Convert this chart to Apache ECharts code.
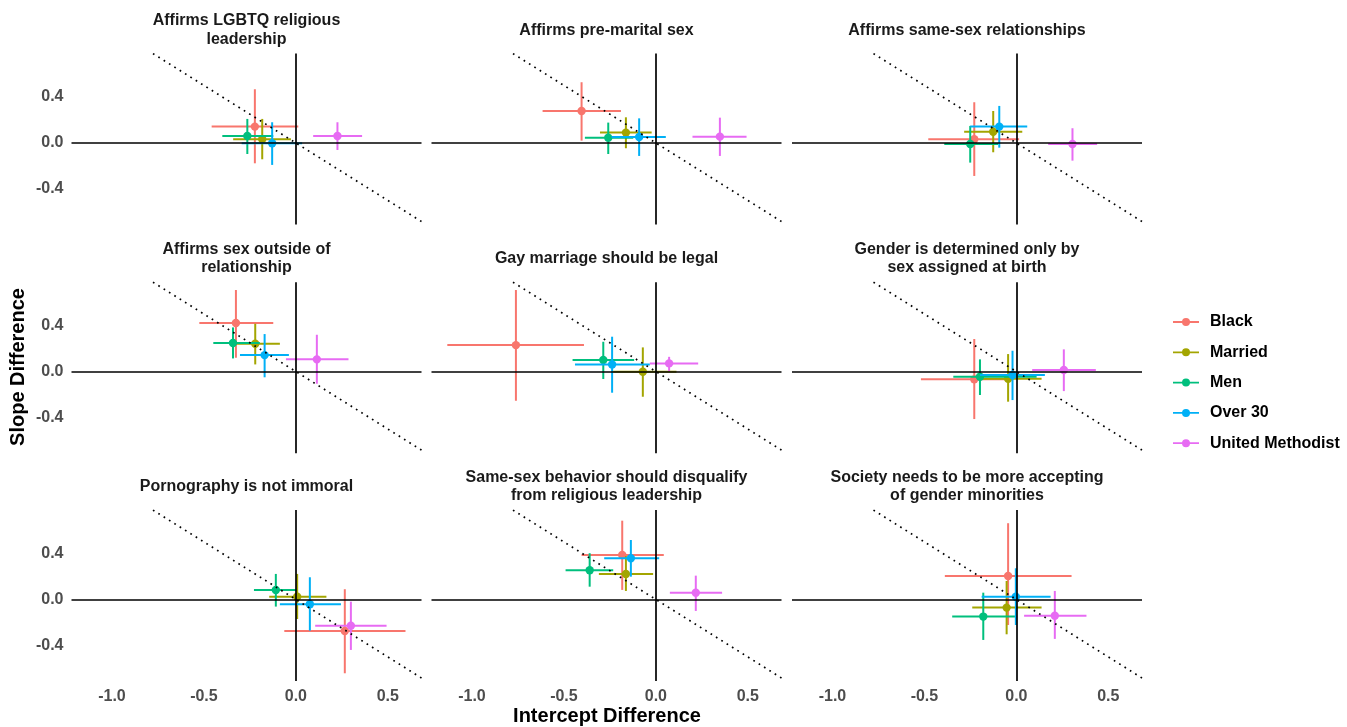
<!DOCTYPE html>
<html>
<head>
<meta charset="utf-8">
<script src="https://cdn.jsdelivr.net/npm/echarts@6/dist/echarts.min.js"></script>
<style>
  html, body { margin: 0; padding: 0; background: #fff; }
  #chart { width: 1347px; height: 727px; }
</style>
</head>
<body>
<div id="chart"></div>
<script>
// facet titles, row by row
const panels = [
    'Affirms LGBTQ religious\nleadership',
    'Affirms pre-marital sex',
    'Affirms same-sex relationships',
    'Affirms sex outside of\nrelationship',
    'Gay marriage should be legal',
    'Gender is determined only by\nsex assigned at birth',
    'Pornography is not immoral',
    'Same-sex behavior should disqualify\nfrom religious leadership',
    'Society needs to be more accepting\nof gender minorities'
];

const groups = ['Black', 'Married', 'Men', 'Over 30', 'United Methodist'];
const groupColors = ['#F8766D', '#A3A500', '#00BF7D', '#00B0F6', '#E76BF3'];

// one row per panel: [intercept, slope, interceptLow, interceptHigh, slopeLow, slopeHigh]
const black = [
    [-0.223, 0.142, -0.458, 0.013, -0.177, 0.467],
    [-0.404, 0.278, -0.616, -0.190, 0.020, 0.528],
    [-0.229, 0.032, -0.479, 0.015, -0.287, 0.354],
    [-0.326, 0.422, -0.525, -0.123, 0.120, 0.709],
    [-0.761, 0.230, -1.134, -0.391, -0.254, 0.709],
    [-0.229, -0.068, -0.519, -0.017, -0.413, 0.283],
    [0.266, -0.274, -0.063, 0.596, -0.642, 0.089],
    [-0.183, 0.387, -0.404, 0.043, 0.083, 0.685],
    [-0.045, 0.204, -0.389, 0.300, -0.222, 0.663]
];
const married = [
    [-0.183, 0.032, -0.341, -0.027, -0.142, 0.209],
    [-0.163, 0.090, -0.304, -0.023, -0.046, 0.223],
    [-0.126, 0.098, -0.284, 0.032, -0.081, 0.278],
    [-0.221, 0.242, -0.341, -0.087, 0.062, 0.416],
    [-0.071, -0.002, -0.232, 0.112, -0.219, 0.210],
    [-0.045, -0.062, -0.198, 0.137, -0.262, 0.152],
    [0.007, 0.024, -0.145, 0.166, -0.170, 0.222],
    [-0.163, 0.222, -0.310, -0.015, 0.074, 0.378],
    [-0.053, -0.071, -0.240, 0.137, -0.303, 0.161]
];
const men = [
    [-0.264, 0.061, -0.400, -0.123, -0.096, 0.209],
    [-0.259, 0.046, -0.386, -0.123, -0.096, 0.177],
    [-0.251, -0.009, -0.392, -0.099, -0.171, 0.148],
    [-0.342, 0.248, -0.449, -0.196, 0.114, 0.384],
    [-0.286, 0.100, -0.453, -0.118, -0.065, 0.259],
    [-0.198, -0.045, -0.343, 0.110, -0.204, 0.106],
    [-0.109, 0.083, -0.228, 0.004, -0.062, 0.222],
    [-0.360, 0.254, -0.491, -0.232, 0.111, 0.402],
    [-0.180, -0.149, -0.349, -0.008, -0.352, 0.059]
];
const over30 = [
    [-0.129, -0.003, -0.295, 0.034, -0.191, 0.180],
    [-0.091, 0.052, -0.241, 0.054, -0.113, 0.214],
    [-0.093, 0.142, -0.251, 0.059, -0.041, 0.322],
    [-0.170, 0.143, -0.304, -0.038, -0.050, 0.326],
    [-0.238, 0.062, -0.440, -0.033, -0.184, 0.303],
    [-0.021, -0.030, -0.198, 0.155, -0.248, 0.181],
    [0.076, -0.042, -0.087, 0.245, -0.271, 0.193],
    [-0.136, 0.358, -0.281, 0.018, 0.198, 0.517],
    [-0.003, 0.024, -0.189, 0.186, -0.222, 0.271]
];
const methodist = [
    [0.226, 0.061, 0.094, 0.360, -0.061, 0.180],
    [0.348, 0.055, 0.199, 0.493, -0.113, 0.220],
    [0.305, -0.009, 0.173, 0.439, -0.154, 0.128],
    [0.114, 0.106, -0.054, 0.286, -0.106, 0.320],
    [0.072, 0.071, -0.033, 0.230, 0.004, 0.128],
    [0.258, 0.013, 0.086, 0.432, -0.170, 0.193],
    [0.299, -0.228, 0.105, 0.493, -0.439, -0.019],
    [0.217, 0.059, 0.076, 0.360, -0.100, 0.207],
    [0.209, -0.141, 0.042, 0.381, -0.343, 0.074]
];
const groupData = [black, married, men, over30, methodist];

const xTicks = [-1.0, -0.5, 0.0, 0.5];
const yTicks = [-0.4, 0.0, 0.4];
const xRange = [-1.22, 0.683];
const yRange = [-0.71, 0.777];

const FONT = '"Liberation Sans", Arial, sans-serif';
const colLeft = [71.5, 431.5, 792];
const rowTop = [53.6, 282.2, 510.1];
const panelW = 350;
const panelH = 171;

const grids = [], xAxes = [], yAxes = [], series = [], graphics = [];

panels.forEach((title, i) => {
    const row = Math.floor(i / 3), col = i % 3;
    grids.push({ left: colLeft[col], top: rowTop[row], width: panelW, height: panelH });
    xAxes.push({
        gridIndex: i, type: 'value', min: xRange[0], max: xRange[1],
        axisLine: { show: false }, axisTick: { show: false }, splitLine: { show: false },
        axisLabel: {
            show: row === 2, customValues: xTicks, margin: 7,
            formatter: v => v.toFixed(1),
            color: '#4d4d4d', fontWeight: 'bold', fontSize: 16, fontFamily: FONT
        }
    });
    yAxes.push({
        gridIndex: i, type: 'value', min: yRange[0], max: yRange[1],
        axisLine: { show: false }, axisTick: { show: false }, splitLine: { show: false },
        axisLabel: {
            show: col === 0, customValues: yTicks, margin: 8,
            formatter: v => v.toFixed(1),
            color: '#4d4d4d', fontWeight: 'bold', fontSize: 16, fontFamily: FONT
        }
    });

    // reference lines: zero axes and the y = -x diagonal
    series.push({
        type: 'line', xAxisIndex: i, yAxisIndex: i, data: [], silent: true,
        markLine: {
            silent: true, symbol: 'none', animation: false,
            label: { show: false },
            data: [
                { xAxis: 0, lineStyle: { color: '#000', width: 1.7, type: 'solid' } },
                { yAxis: 0, lineStyle: { color: '#000', width: 1.7, type: 'solid' } },
                [
                    { coord: [-yRange[1], yRange[1]], lineStyle: { color: '#000', width: 1.7, type: [1.7, 4.6] } },
                    { coord: [xRange[1], -xRange[1]] }
                ]
            ]
        }
    });

    groups.forEach((name, g) => {
        const color = groupColors[g];
        series.push({
            name: name, type: 'custom', xAxisIndex: i, yAxisIndex: i,
            color: color, itemStyle: { color: color },
            data: [groupData[g][i]],
            encode: { x: [0, 2, 3], y: [1, 4, 5] },
            renderItem: (params, api) => {
                const x = api.value(0), y = api.value(1);
                const c = api.coord([x, y]);
                const l = api.coord([api.value(2), y]);
                const r = api.coord([api.value(3), y]);
                const b = api.coord([x, api.value(4)]);
                const t = api.coord([x, api.value(5)]);
                const ls = { stroke: color, lineWidth: 2 };
                return {
                    type: 'group',
                    children: [
                        { type: 'line', shape: { x1: l[0], y1: l[1], x2: r[0], y2: r[1] }, style: ls },
                        { type: 'line', shape: { x1: b[0], y1: b[1], x2: t[0], y2: t[1] }, style: ls },
                        { type: 'circle', shape: { cx: c[0], cy: c[1], r: 4.2 }, style: { fill: color } }
                    ]
                };
            }
        });
    });

    graphics.push({
        type: 'text',
        x: colLeft[col] + panelW / 2,
        y: rowTop[row] - 23.5,
        style: {
            text: title, textAlign: 'center', textVerticalAlign: 'middle',
            font: 'bold 16px ' + FONT, fill: '#1a1a1a', lineHeight: 18.5
        }
    });
});

graphics.push({
    type: 'text', x: 607, y: 716,
    style: { text: 'Intercept Difference', textAlign: 'center', textVerticalAlign: 'middle',
             font: 'bold 20px ' + FONT, fill: '#000' }
});
graphics.push({
    type: 'text', x: 18, y: 367, rotation: Math.PI / 2,
    style: { text: 'Slope Difference', textAlign: 'center', textVerticalAlign: 'middle',
             font: 'bold 20px ' + FONT, fill: '#000' }
});

const option = {
    backgroundColor: '#fff',
    animation: false,
    grid: grids,
    xAxis: xAxes,
    yAxis: yAxes,
    legend: {
        data: groups,
        orient: 'vertical',
        left: 1168,
        top: 309,
        itemWidth: 26,
        itemHeight: 10,
        itemGap: 14.3,
        icon: 'path://M0,4.1H26V5.9H0Z M9,5a4,4 0 1,1 8,0a4,4 0 1,1 -8,0Z',
        textStyle: { fontSize: 16, fontWeight: 'bold', color: '#000', fontFamily: FONT, padding: [0, 0, 0, 6] }
    },
    graphic: graphics,
    series: series
};

const myChart = echarts.init(document.getElementById('chart'));
myChart.setOption(option);
window.addEventListener('resize', () => myChart.resize());
</script>
</body>
</html>
